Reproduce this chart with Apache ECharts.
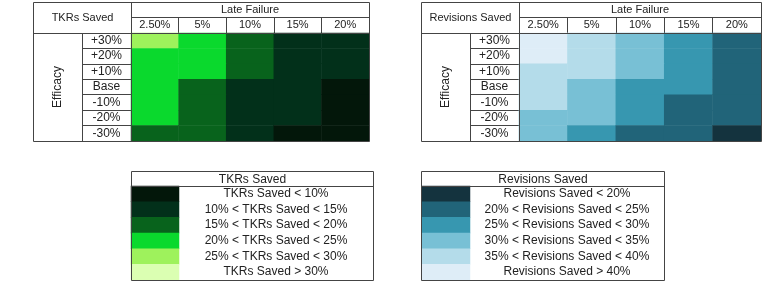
<!DOCTYPE html>
<html>
<head>
<meta charset="utf-8">
<script src="https://cdn.jsdelivr.net/npm/echarts@6/dist/echarts.min.js"></script>
<style>
  html, body { margin: 0; padding: 0; background: #fff; }
  #main { width: 764px; height: 284px; }
</style>
</head>
<body>
<div id="main"></div>
<script>
// axis categories
var lateFailure = ['2.50%', '5%', '10%', '15%', '20%'];
var efficacy = ['+30%', '+20%', '+10%', 'Base', '-10%', '-20%', '-30%'];

// % saved, rows follow efficacy, columns follow lateFailure
var tkrSaved = [
  [26.5, 24.5, 18.5, 14, 11],
  [24.5, 22.5, 17.5, 13.5, 10.5],
  [23.5, 21.5, 16.5, 13, 10.2],
  [22.5, 19.5, 14.5, 11.5, 9.5],
  [21.5, 18.5, 14, 11, 9],
  [20.5, 17.5, 13, 10.5, 8.5],
  [19.5, 16.5, 12.5, 9.5, 8]
];
var revSaved = [
  [41.5, 38.5, 34, 29, 24],
  [40.5, 37.5, 33, 28, 23.5],
  [39.5, 36.5, 32, 27, 23],
  [38, 34.5, 29.5, 26, 22],
  [37, 33.5, 28.5, 24.5, 21.5],
  [34.5, 32, 27.5, 23.5, 20.5],
  [33, 29, 24.5, 22, 19]
];

// legend bands
var tkrBreaks = [10, 15, 20, 25, 30];
var revBreaks = [20, 25, 30, 35, 40];
var tkrLegend = ['TKRs Saved < 10%', '10% < TKRs Saved < 15%', '15% < TKRs Saved < 20%',
  '20% < TKRs Saved < 25%', '25% < TKRs Saved < 30%', 'TKRs Saved > 30%'];
var revLegend = ['Revisions Saved < 20%', '20% < Revisions Saved < 25%', '25% < Revisions Saved < 30%',
  '30% < Revisions Saved < 35%', '35% < Revisions Saved < 40%', 'Revisions Saved > 40%'];

var tkrColors = ['#03170a', '#02301a', '#08631c', '#0ad92d', '#9ef25c', '#dbffb2'];
var revColors = ['#14333e', '#216479', '#3797b0', '#78c0d5', '#b4dcea', '#deedf7'];

var FONT = "'Liberation Sans', Arial, sans-serif";
var TXT = '#222';
var LINE = '#444';

function toCells(m) {
  var out = [];
  m.forEach(function (row, r) {
    row.forEach(function (v, c) { out.push([c, r, v]); });
  });
  return out;
}
function pieces(breaks, colors) {
  var p = [{ lt: breaks[0], color: colors[0] }];
  for (var i = 1; i < breaks.length; i++) p.push({ gte: breaks[i - 1], lt: breaks[i], color: colors[i] });
  p.push({ gte: breaks[breaks.length - 1], color: colors[breaks.length] });
  return p;
}
// one key value inside each band, for the legend swatches
function bandKeys(breaks) {
  var step = breaks[1] - breaks[0];
  var k = [breaks[0] - step / 2];
  for (var i = 1; i < breaks.length; i++) k.push((breaks[i - 1] + breaks[i]) / 2);
  k.push(breaks[breaks.length - 1] + step / 2);
  return k.map(function (v, i) { return [0, i, v]; });
}

function tableFrame(x0, xLab, xData, x1, title) {
  var y0 = 2.5, yMid = 17.5, yHead = 33.5, y1 = 141.5;
  var ln = function (a, b, c, d) {
    return { type: 'line', z: 100, shape: { x1: a, y1: b, x2: c, y2: d }, style: { stroke: LINE, lineWidth: 1 } };
  };
  return [
    { type: 'rect', z: 100, shape: { x: x0, y: y0, width: x1 - x0, height: y1 - y0 },
      style: { fill: 'none', stroke: LINE, lineWidth: 1 } },
    ln(xLab, yHead, xLab, y1),
    ln(xData, y0, xData, y1),
    ln(xData, yMid, x1, yMid),
    ln(x0, yHead, x1, yHead),
    { type: 'text', z: 100, x: (x0 + xData) / 2, y: (y0 + yHead) / 2,
      style: { text: title, fill: TXT, font: '11px ' + FONT, align: 'center', verticalAlign: 'middle' } }
  ];
}
function legendFrame(x0, x1, title) {
  var y0 = 171.5, yHead = 186.5, y1 = 280.5;
  return [
    { type: 'rect', z: 100, shape: { x: x0, y: y0, width: x1 - x0, height: y1 - y0 },
      style: { fill: 'none', stroke: LINE, lineWidth: 1 } },
    { type: 'line', z: 100, shape: { x1: x0, y1: yHead, x2: x1, y2: yHead }, style: { stroke: LINE, lineWidth: 1 } },
    { type: 'text', z: 100, x: (x0 + x1) / 2, y: (y0 + yHead) / 2 + 0.5,
      style: { text: title, fill: TXT, font: '12px ' + FONT, align: 'center', verticalAlign: 'middle' } }
  ];
}

function topAxis(gi) {
  return {
    type: 'category', gridIndex: gi, data: lateFailure, position: 'top',
    name: 'Late Failure', nameLocation: 'middle', nameGap: 23,
    nameTextStyle: { fontFamily: FONT, fontSize: 11, color: TXT, verticalAlign: 'middle' },
    axisLine: { show: true, lineStyle: { color: LINE, width: 1 } },
    axisTick: { show: true, interval: 0, length: 16, lineStyle: { color: LINE, width: 1 } },
    axisLabel: { interval: 0, margin: 8, verticalAlign: 'middle', fontFamily: FONT, fontSize: 11, color: TXT },
    splitLine: { show: false }
  };
}
function leftAxis(gi) {
  return {
    type: 'category', gridIndex: gi, data: efficacy, inverse: true,
    name: 'Efficacy', nameLocation: 'middle', nameGap: 73,
    nameTextStyle: { fontFamily: FONT, fontSize: 12, color: TXT, align: 'center', verticalAlign: 'middle' },
    axisLine: { show: true, lineStyle: { color: LINE, width: 1 } },
    axisTick: { show: true, interval: 0, length: 49, lineStyle: { color: LINE, width: 1 } },
    axisLabel: { interval: 0, margin: 24.5, align: 'center', fontFamily: FONT, fontSize: 12, color: TXT },
    splitLine: { show: false }
  };
}
function legendY(gi, labels, size, margin) {
  return {
    type: 'category', gridIndex: gi, data: labels, inverse: true, position: 'right',
    axisLine: { show: false }, axisTick: { show: false }, splitLine: { show: false },
    axisLabel: { interval: 0, margin: margin, align: 'center', fontFamily: FONT, fontSize: size, color: TXT }
  };
}
function legendX(gi) {
  return { type: 'category', gridIndex: gi, data: [''], show: false };
}

var chart = echarts.init(document.getElementById('main'));
chart.setOption({
  animation: false,
  backgroundColor: '#fff',
  grid: [
    { left: 131, top: 33, width: 238, height: 108 },
    { left: 519, top: 33, width: 242, height: 108 },
    { left: 131, top: 186, width: 48, height: 94 },
    { left: 422, top: 186, width: 48, height: 94 }
  ],
  xAxis: [topAxis(0), topAxis(1), legendX(2), legendX(3)],
  yAxis: [leftAxis(0), leftAxis(1),
    legendY(2, tkrLegend, 12, 97),
    legendY(3, revLegend, 12, 97)],
  visualMap: [
    { type: 'piecewise', show: false, seriesIndex: [0, 2], pieces: pieces(tkrBreaks, tkrColors) },
    { type: 'piecewise', show: false, seriesIndex: [1, 3], pieces: pieces(revBreaks, revColors) }
  ],
  series: [
    { type: 'heatmap', xAxisIndex: 0, yAxisIndex: 0, data: toCells(tkrSaved), itemStyle: { borderWidth: 0 } },
    { type: 'heatmap', xAxisIndex: 1, yAxisIndex: 1, data: toCells(revSaved), itemStyle: { borderWidth: 0 } },
    { type: 'heatmap', xAxisIndex: 2, yAxisIndex: 2, data: bandKeys(tkrBreaks), itemStyle: { borderWidth: 0 } },
    { type: 'heatmap', xAxisIndex: 3, yAxisIndex: 3, data: bandKeys(revBreaks), itemStyle: { borderWidth: 0 } }
  ],
  graphic: [].concat(
    tableFrame(33.5, 82.5, 131.5, 369.5, 'TKRs Saved'),
    tableFrame(421.5, 470.5, 519.5, 761.5, 'Revisions Saved'),
    legendFrame(131.5, 373.5, 'TKRs Saved'),
    legendFrame(421.5, 664.5, 'Revisions Saved')
  )
});
</script>
</body>
</html>
